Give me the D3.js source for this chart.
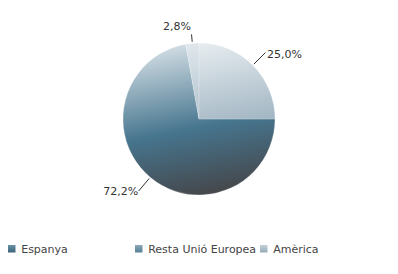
<!DOCTYPE html>
<html>
<head>
<meta charset="utf-8">
<script src="https://cdn.jsdelivr.net/npm/d3@7"></script>
<style>
  body { margin: 0; background: #fff; }
  text { font-family: "DejaVu Sans", sans-serif; }
</style>
</head>
<body>
<script>
// ---------------------------------------------------------------
// data
// ---------------------------------------------------------------
var categories = ["Espanya", "Resta Unió Europea", "Amèrica"];
var values = [72.2, 2.8, 25.0];
var value_labels = ["72,2%", "2,8%", "25,0%"];

// gradient stops per slice (top, middle, bottom)
var slice_colors = [
  ["#d3dee5", "#46758e", "#45474b"],
  ["#e2e9ee", "#a9bcc9", "#8aa0b0"],
  ["#eaeff2", "#a6b9c6", "#8ea3b2"]
];
// legend square gradient (top, bottom)
var legend_colors = [
  ["#6991a6", "#3d6477"],
  ["#8aa8b9", "#557f95"],
  ["#c3d0d9", "#95abba"]
];

// ---------------------------------------------------------------
// layout
// ---------------------------------------------------------------
var width = 398, height = 274;
var cx = 199, cy = 119, r = 76;

var svg = d3.select("body").append("svg")
    .attr("width", width)
    .attr("height", height);

var defs = svg.append("defs");

// gradients are defined in the pie group's coordinates (centre = 0,0)
slice_colors.forEach(function(c, i) {
  var gr = defs.append("linearGradient")
      .attr("id", "grad" + i)
      .attr("gradientUnits", "userSpaceOnUse")
      .attr("x1", -20).attr("y1", -r)
      .attr("x2", 10).attr("y2", r);
  gr.append("stop").attr("offset", "0").attr("stop-color", c[0]);
  gr.append("stop").attr("offset", "0.56").attr("stop-color", c[1]);
  gr.append("stop").attr("offset", "1").attr("stop-color", c[2]);
});

legend_colors.forEach(function(c, i) {
  var gr = defs.append("linearGradient")
      .attr("id", "lgrad" + i)
      .attr("x1", 0).attr("y1", 0)
      .attr("x2", 0).attr("y2", 1);
  gr.append("stop").attr("offset", "0").attr("stop-color", c[0]);
  gr.append("stop").attr("offset", "1").attr("stop-color", c[1]);
});

// pie starts at 3 o'clock, clockwise
var pie = d3.pie()
    .sort(null)
    .startAngle(Math.PI / 2)
    .endAngle(Math.PI / 2 + 2 * Math.PI)
    .value(function(d) { return d; });

var arcs = pie(values);
var arc = d3.arc().innerRadius(0).outerRadius(r);

var g = svg.append("g").attr("transform", "translate(" + cx + "," + cy + ")");

g.selectAll("path.slice")
    .data(arcs)
    .enter().append("path")
    .attr("class", "slice")
    .attr("d", arc)
    .attr("fill", function(d, i) { return "url(#grad" + i + ")"; })
    .attr("stroke", "#ffffff")
    .attr("stroke-opacity", 0.35)
    .attr("stroke-width", 0.6);

// ---------------------------------------------------------------
// data labels with leader lines
// ---------------------------------------------------------------
arcs.forEach(function(d, i) {
  var a = (d.startAngle + d.endAngle) / 2;
  var sx = Math.sin(a), sy = -Math.cos(a);
  var small = (d.endAngle - d.startAngle) < 0.3;
  var r1 = r + 1.5, r2 = small ? r + 9 : r + 18;

  var x1 = sx * r1, y1 = sy * r1, x2 = sx * r2, y2 = sy * r2;

  g.append("line")
      .attr("x1", x1).attr("y1", y1)
      .attr("x2", x2).attr("y2", y2)
      .attr("stroke", "#333")
      .attr("stroke-width", 1);

  var t = g.append("text")
      .style("font-size", "11px")
      .attr("fill", "#333")
      .text(value_labels[i]);

  if (small) {
    // near the top: place above the line end
    t.attr("x", x2 - 0.5).attr("y", y2 - 4).attr("text-anchor", "end");
  } else if (sx > 0) {
    t.attr("x", x2 + 1.5).attr("y", y2 + 5).attr("text-anchor", "start");
  } else {
    t.attr("x", x2 - 0.5).attr("y", y2 + 4).attr("text-anchor", "end");
  }
});

// ---------------------------------------------------------------
// legend
// ---------------------------------------------------------------
var legend_x = [8, 135, 260];
var legend = svg.append("g").attr("transform", "translate(0,245)");

categories.forEach(function(c, i) {
  var item = legend.append("g").attr("transform", "translate(" + legend_x[i] + ",0)");
  item.append("rect")
      .attr("width", 7.5).attr("height", 7.5)
      .attr("fill", "url(#lgrad" + i + ")");
  item.append("text")
      .attr("x", 13.2).attr("y", 7.5)
      .style("font-size", "11px")
      .attr("fill", "#444")
      .text(c);
});
</script>
</body>
</html>
